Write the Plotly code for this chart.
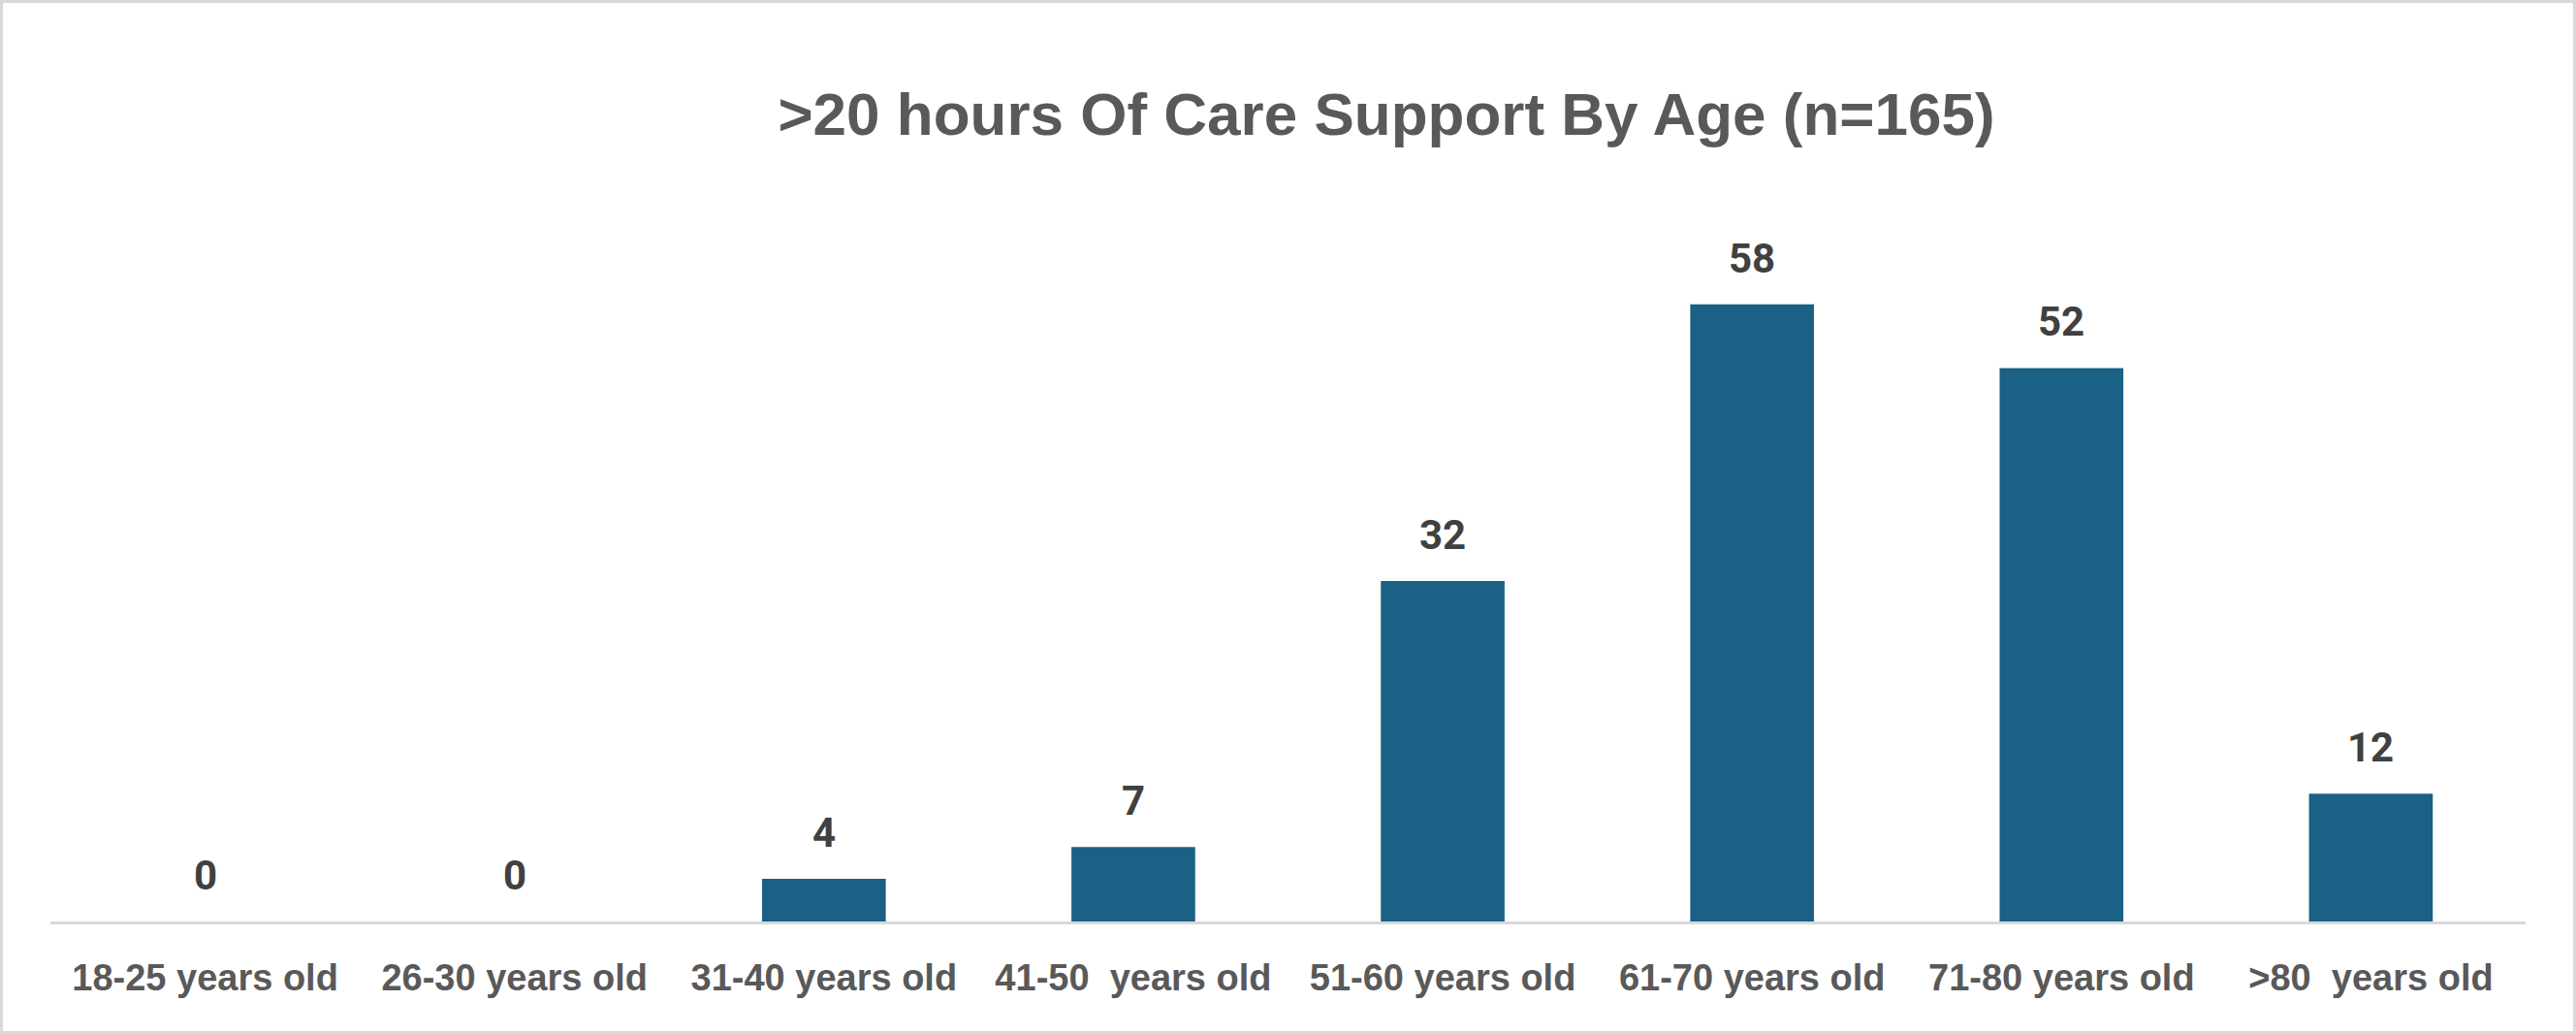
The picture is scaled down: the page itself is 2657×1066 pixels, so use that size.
import plotly.graph_objects as go

categories = ["18-25 years old", "26-30 years old", "31-40 years old", "41-50  years old",
              "51-60 years old", "61-70 years old", "71-80 years old", ">80  years old"]
values = [0, 0, 4, 7, 32, 58, 52, 12]
title_text = ">20 hours Of Care Support By Age (n=165)"

W, H = 2657, 1066
ML, MR, MT, MB = 52, 52, 182, 116

fig = go.Figure()
fig.add_trace(go.Bar(
    x=categories, y=values,
    marker=dict(color="#1a6185", line=dict(width=0)),
    width=0.4,
    hoverinfo="x+y",
))

for c, v in zip(categories, values):
    fig.add_annotation(
        x=c, y=v, text=str(v), showarrow=False,
        yanchor="bottom", yshift=21,
        font=dict(family="Roboto, Liberation Sans, Arial", size=42, color="#404040", weight="bold"),
    )

pw = W - ML - MR
ph = H - MT - MB
fig.add_shape(type="rect", xref="paper", yref="paper",
              x0=(-ML + 1.5) / pw, x1=1 + (MR - 1.5) / pw,
              y0=(-MB + 1.5) / ph, y1=1 + (MT - 1.5) / ph,
              line=dict(color="#d9d9d9", width=3), layer="below")

fig.update_layout(
    width=W, height=H,
    margin=dict(l=ML, r=MR, t=MT, b=MB, pad=0),
    paper_bgcolor="white", plot_bgcolor="white",
    showlegend=False,
    title=dict(text=title_text, x=(1430 - ML) / pw, xref="paper", xanchor="center",
               y=1 - 117 / H, yref="container", yanchor="middle",
               font=dict(family="Liberation Sans, Arial", size=62, color="#595959", weight="bold")),
    xaxis=dict(showline=True, linecolor="#d9d9d9", linewidth=3, showgrid=False,
               ticks="", ticklabelstandoff=22,
               tickfont=dict(family="Liberation Sans, Arial", size=38, color="#595959", weight="bold")),
    yaxis=dict(range=[0, 70], visible=False, showgrid=False, zeroline=False),
)

fig.write_html("out.html", config={"displayModeBar": False},
               post_script="document.body.style.margin='0';document.body.style.overflow='hidden';")
